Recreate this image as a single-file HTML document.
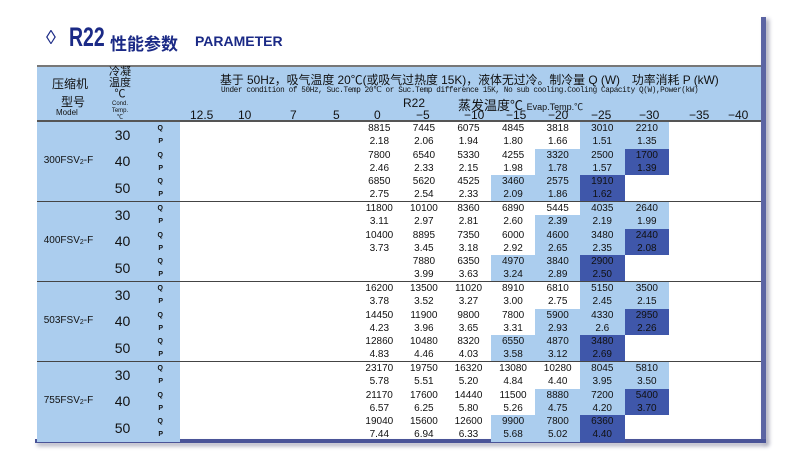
<!DOCTYPE html>
<html><head><meta charset="utf-8"><style>
*{margin:0;padding:0;box-sizing:border-box}
body{width:800px;height:469px;background:#fff;position:relative;overflow:hidden;font-family:"Liberation Sans","Noto Sans CJK SC",sans-serif;color:#111}
.a{position:absolute;white-space:nowrap}
.t{color:#1b2a86}
#hdr{position:absolute;left:37px;top:65px;width:724px;height:57px;background:#abcdee;border-top:2px solid #777;border-bottom:2px solid #555}
table{position:absolute;left:37px;top:122px;border-collapse:collapse;table-layout:fixed;width:724px}
td{height:13.25px;padding:0;font-size:10px;text-align:center;line-height:13px;overflow:hidden}
td.m,td.c,td.q{background:#abcdee}
td.m{font-size:10px}
td.m sub{font-size:7px;vertical-align:-1px}
td.c{font-size:14px}
td.q{font-size:7px;font-weight:bold;text-align:right;padding-right:17px}
td.l{background:#abcdee}
td.d{background:#3f57aa}
tr.s td{border-top:1.5px solid #444}
</style></head><body>
<div class="a t" style="left:46px;top:27px;font-size:20px">&#9674;</div>
<div class="a t" style="left:69px;top:22px;font-size:27px;font-weight:bold;transform:scaleX(0.72);transform-origin:left">R22</div>
<div class="a t" style="left:110px;top:30px;font-size:17px;font-weight:bold">性能参数</div>
<div class="a t" style="left:195px;top:33px;font-size:14px;font-weight:bold">PARAMETER</div>
<div class="a" style="left:761px;top:17px;width:5px;height:426px;background:#5b64a3;box-shadow:3px 2px 4px #aab"></div>
<div class="a" style="left:35px;top:439px;width:731px;height:4px;background:#4a5498;box-shadow:2px 3px 4px #aab"></div>
<div id="hdr"></div>
<div class="a" style="left:52px;top:75px;font-size:12px">压缩机</div>
<div class="a" style="left:61px;top:93px;font-size:12px">型号</div>
<div class="a" style="left:56px;top:108px;font-size:8px">Model</div>
<div class="a" style="left:105px;top:67px;font-size:11px;line-height:11px;text-align:center;width:30px">冷凝<br>温度<br>℃</div>
<div class="a" style="left:106px;top:101px;font-size:6px;line-height:7px;text-align:center;width:28px">Cond.<br>Temp.<br>℃</div>
<div class="a" style="left:220px;top:74px;font-size:12px;line-height:12px;transform:scaleX(0.99);transform-origin:left">基于 50Hz，吸气温度 20℃(或吸气过热度 15K)，液体无过冷。制冷量 Q (W)　功率消耗 P (kW)</div>
<div class="a" style="left:221px;top:87px;font-size:8px;line-height:8px;font-family:'Liberation Mono',monospace;letter-spacing:-0.4px;transform:scaleX(0.96);transform-origin:left">Under condition of 50Hz, Suc.Temp 20℃ or Suc.Temp difference 15K, No sub cooling.Cooling Capacity Q(W),Power(kW)</div>
<div class="a" style="left:403px;top:96px;font-size:12px">R22</div>
<div class="a" style="left:458px;top:95px;font-size:13px">蒸发温度℃ <span style="font-size:9px">Evap.Temp.℃</span></div>
<div class="a" style="left:190px;top:108px;font-size:12px">12.5</div>
<div class="a" style="left:238px;top:108px;font-size:12px">10</div>
<div class="a" style="left:290px;top:108px;font-size:12px">7</div>
<div class="a" style="left:333px;top:108px;font-size:12px">5</div>
<div class="a" style="left:374px;top:108px;font-size:12px">0</div>
<div class="a" style="left:416px;top:108px;font-size:12px">−5</div>
<div class="a" style="left:464px;top:108px;font-size:12px">−10</div>
<div class="a" style="left:506px;top:108px;font-size:12px">−15</div>
<div class="a" style="left:548px;top:108px;font-size:12px">−20</div>
<div class="a" style="left:591px;top:108px;font-size:12px">−25</div>
<div class="a" style="left:639px;top:108px;font-size:12px">−30</div>
<div class="a" style="left:689px;top:108px;font-size:12px">−35</div>
<div class="a" style="left:728px;top:108px;font-size:12px">−40</div>
<table>
<colgroup><col style="width:63px"><col style="width:45px"><col style="width:35px"><col style="width:177px"><col style="width:44.6px"><col style="width:44.6px"><col style="width:44.6px"><col style="width:44.6px"><col style="width:44.6px"><col style="width:44.6px"><col style="width:44.6px"><col></colgroup>
<tr><td class="m" rowspan="6">300FSV<sub>2</sub>-F</td><td class="c" rowspan="2">30</td><td class="q">Q</td><td></td><td>8815</td><td>7445</td><td>6075</td><td>4845</td><td>3818</td><td class="l">3010</td><td class="l">2210</td><td></td></tr>
<tr><td class="q">P</td><td></td><td>2.18</td><td>2.06</td><td>1.94</td><td>1.80</td><td>1.66</td><td class="l">1.51</td><td class="l">1.35</td><td></td></tr>
<tr><td class="c" rowspan="2">40</td><td class="q">Q</td><td></td><td>7800</td><td>6540</td><td>5330</td><td>4255</td><td class="l">3320</td><td class="l">2500</td><td class="d">1700</td><td></td></tr>
<tr><td class="q">P</td><td></td><td>2.46</td><td>2.33</td><td>2.15</td><td>1.98</td><td class="l">1.78</td><td class="l">1.57</td><td class="d">1.39</td><td></td></tr>
<tr><td class="c" rowspan="2">50</td><td class="q">Q</td><td></td><td>6850</td><td>5620</td><td>4525</td><td class="l">3460</td><td class="l">2575</td><td class="d">1910</td><td></td><td></td></tr>
<tr><td class="q">P</td><td></td><td>2.75</td><td>2.54</td><td>2.33</td><td class="l">2.09</td><td class="l">1.86</td><td class="d">1.62</td><td></td><td></td></tr>
<tr class="s"><td class="m" rowspan="6">400FSV<sub>2</sub>-F</td><td class="c" rowspan="2">30</td><td class="q">Q</td><td></td><td>11800</td><td>10100</td><td>8360</td><td>6890</td><td>5445</td><td class="l">4035</td><td class="l">2640</td><td></td></tr>
<tr><td class="q">P</td><td></td><td>3.11</td><td>2.97</td><td>2.81</td><td>2.60</td><td class="l">2.39</td><td class="l">2.19</td><td class="l">1.99</td><td></td></tr>
<tr><td class="c" rowspan="2">40</td><td class="q">Q</td><td></td><td>10400</td><td>8895</td><td>7350</td><td>6000</td><td class="l">4600</td><td class="l">3480</td><td class="d">2440</td><td></td></tr>
<tr><td class="q">P</td><td></td><td>3.73</td><td>3.45</td><td>3.18</td><td>2.92</td><td class="l">2.65</td><td class="l">2.35</td><td class="d">2.08</td><td></td></tr>
<tr><td class="c" rowspan="2">50</td><td class="q">Q</td><td></td><td></td><td>7880</td><td>6350</td><td class="l">4970</td><td class="l">3840</td><td class="d">2900</td><td></td><td></td></tr>
<tr><td class="q">P</td><td></td><td></td><td>3.99</td><td>3.63</td><td class="l">3.24</td><td class="l">2.89</td><td class="d">2.50</td><td></td><td></td></tr>
<tr class="s"><td class="m" rowspan="6">503FSV<sub>2</sub>-F</td><td class="c" rowspan="2">30</td><td class="q">Q</td><td></td><td>16200</td><td>13500</td><td>11020</td><td>8910</td><td>6810</td><td class="l">5150</td><td class="l">3500</td><td></td></tr>
<tr><td class="q">P</td><td></td><td>3.78</td><td>3.52</td><td>3.27</td><td>3.00</td><td>2.75</td><td class="l">2.45</td><td class="l">2.15</td><td></td></tr>
<tr><td class="c" rowspan="2">40</td><td class="q">Q</td><td></td><td>14450</td><td>11900</td><td>9800</td><td>7800</td><td class="l">5900</td><td class="l">4330</td><td class="d">2950</td><td></td></tr>
<tr><td class="q">P</td><td></td><td>4.23</td><td>3.96</td><td>3.65</td><td>3.31</td><td class="l">2.93</td><td class="l">2.6</td><td class="d">2.26</td><td></td></tr>
<tr><td class="c" rowspan="2">50</td><td class="q">Q</td><td></td><td>12860</td><td>10480</td><td>8320</td><td class="l">6550</td><td class="l">4870</td><td class="d">3480</td><td></td><td></td></tr>
<tr><td class="q">P</td><td></td><td>4.83</td><td>4.46</td><td>4.03</td><td class="l">3.58</td><td class="l">3.12</td><td class="d">2.69</td><td></td><td></td></tr>
<tr class="s"><td class="m" rowspan="6">755FSV<sub>2</sub>-F</td><td class="c" rowspan="2">30</td><td class="q">Q</td><td></td><td>23170</td><td>19750</td><td>16320</td><td>13080</td><td>10280</td><td class="l">8045</td><td class="l">5810</td><td></td></tr>
<tr><td class="q">P</td><td></td><td>5.78</td><td>5.51</td><td>5.20</td><td>4.84</td><td>4.40</td><td class="l">3.95</td><td class="l">3.50</td><td></td></tr>
<tr><td class="c" rowspan="2">40</td><td class="q">Q</td><td></td><td>21170</td><td>17600</td><td>14440</td><td>11500</td><td class="l">8880</td><td class="l">7200</td><td class="d">5400</td><td></td></tr>
<tr><td class="q">P</td><td></td><td>6.57</td><td>6.25</td><td>5.80</td><td>5.26</td><td class="l">4.75</td><td class="l">4.20</td><td class="d">3.70</td><td></td></tr>
<tr><td class="c" rowspan="2">50</td><td class="q">Q</td><td></td><td>19040</td><td>15600</td><td>12600</td><td class="l">9900</td><td class="l">7800</td><td class="d">6360</td><td></td><td></td></tr>
<tr><td class="q">P</td><td></td><td>7.44</td><td>6.94</td><td>6.33</td><td class="l">5.68</td><td class="l">5.02</td><td class="d">4.40</td><td></td><td></td></tr>
</table>
</body></html>
